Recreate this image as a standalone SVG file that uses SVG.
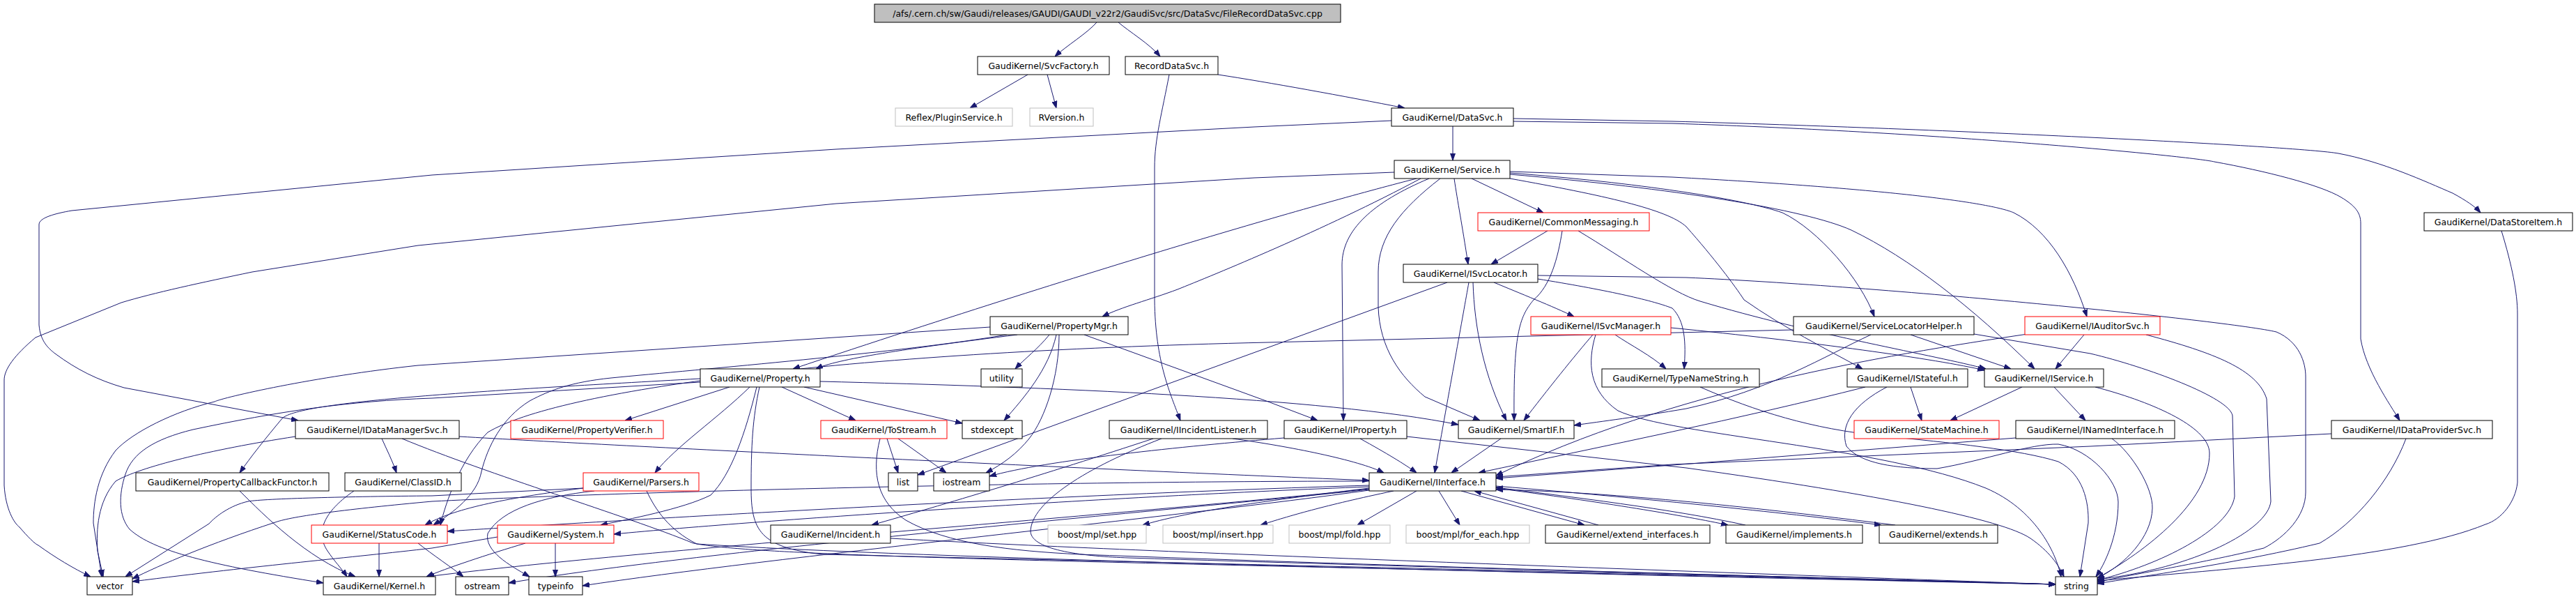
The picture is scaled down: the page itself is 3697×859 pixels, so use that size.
<svg xmlns="http://www.w3.org/2000/svg" width="3697" height="859" viewBox="0 0 3697 859">
<style>
.node rect{fill:#fff;stroke:#000;stroke-width:1}
.node.red rect{stroke:#ff0000}
.node.ext rect{stroke:#bfbfbf}
.node.root rect{fill:#bfbfbf}
.node text{font-family:"DejaVu Sans",sans-serif;font-size:12.5px;text-anchor:middle;fill:#000}
#edges path{fill:none;stroke:#191970;stroke-width:1;marker-end:url(#arr)}
</style>
<defs>
<marker id="arr" markerWidth="10" markerHeight="8" refX="10" refY="4" orient="auto" markerUnits="userSpaceOnUse">
<path d="M0,0.5 L10,4 L0,7.5 z" fill="#191970" stroke="#191970" stroke-width="1"/>
</marker>
</defs>
<rect width="3697" height="859" fill="#fff"/>
<g id="edges">
<path d="M1574,32 C1560,48 1530,66 1514,81"/>
<path d="M1605,32 C1620,45 1650,63 1665,81"/>
<path d="M1475,107 L1392,155"/>
<path d="M1503,107 L1516,155"/>
<path d="M1748,107 C1820,118 1930,138 2016,155"/>
<path d="M1678,107 C1668,160 1657,200 1657,240 L1657,430 C1658,520 1680,565 1694,603"/>
<path d="M2085,181 L2085,230"/>
<path d="M1997,173 L1800,182 L1200,214 L620,251 L103,302 C80,306 56,312 56,322 L56,466 C58,490 70,500 79,507 C110,530 140,545 178,556 L428,603"/>
<path d="M2172,170 L2400,174 C2800,185 3300,210 3356,220 C3420,232 3480,260 3520,277 C3540,288 3552,296 3560,305"/>
<path d="M2172,174 L2400,177 C2800,190 3150,225 3178,232 C3250,245 3330,265 3360,283 C3380,295 3388,305 3388,320 L3388,486 C3395,530 3430,580 3444,603"/>
<path d="M3590,331 C3605,380 3613,420 3613,450 L3613,692 C3610,720 3590,745 3567,752 C3450,800 3200,815 3010,833"/>
<path d="M3346,622 L3000,640 L2400,666 L2147,684"/>
<path d="M3453,629 C3430,690 3380,750 3329,779 C3200,810 3050,830 3010,837"/>
<path d="M2001,247 L1800,255 L1200,292 L600,352 L362,390 C290,405 220,420 174,434 L51,484 C20,510 6,530 6,545 L6,696 C8,730 20,750 28,756 C40,770 50,780 55,782 C80,800 105,815 130,827"/>
<path d="M2033,256 C1900,290 1600,375 1138,529"/>
<path d="M2039,256 C1900,330 1740,395 1690,415 C1650,430 1610,440 1582,454"/>
<path d="M2051,256 C1970,290 1926,330 1926,380 L1928,603"/>
<path d="M2067,256 C2010,300 1978,340 1978,390 L1978,440 C1980,500 2010,540 2045,569 L2124,603"/>
<path d="M2087,256 C2092,290 2098,320 2107,379"/>
<path d="M2112,256 L2215,305"/>
<path d="M2167,246 L2400,254 C2700,270 2855,290 2890,305 C2940,330 2975,390 2995,454"/>
<path d="M2167,248 C2350,262 2500,285 2558,305 C2610,330 2670,400 2690,454"/>
<path d="M2167,250 C2400,270 2590,300 2657,330 C2740,370 2830,440 2920,529"/>
<path d="M2167,256 C2300,280 2393,300 2420,325 C2460,370 2490,410 2503,430 C2560,470 2620,500 2673,529"/>
<path d="M2221,331 L2140,379"/>
<path d="M2242,331 C2236,370 2225,410 2201,430 C2180,455 2172,480 2173,603"/>
<path d="M2265,331 C2330,370 2400,420 2440,432 C2600,480 2780,510 2850,529"/>
<path d="M2144,405 C2180,420 2230,440 2259,454"/>
<path d="M2207,400 C2300,415 2370,430 2400,442 C2418,460 2420,490 2417,529"/>
<path d="M2114,405 C2116,470 2130,540 2162,603"/>
<path d="M2108,405 C2100,450 2080,560 2059,678"/>
<path d="M2077,405 L1317,681"/>
<path d="M2207,395 L2420,398 C2700,410 3200,460 3267,476 C3300,490 3309,520 3309,540 L3309,706 C3309,740 3280,770 3249,786 C3150,810 3050,825 3010,835"/>
<path d="M2318,480 C2340,495 2370,510 2391,529"/>
<path d="M2286,480 C2260,510 2220,560 2187,603"/>
<path d="M2398,470 C2600,490 2780,515 2848,531"/>
<path d="M2290,480 C2278,520 2280,560 2322,589 C2400,625 2700,640 2850,700 C2920,730 2950,790 2958,827"/>
<path d="M1460,480 C1300,500 1200,515 1171,529"/>
<path d="M1506,480 C1490,500 1470,515 1457,529"/>
<path d="M1516,480 C1505,530 1470,570 1441,603"/>
<path d="M1520,480 C1520,540 1500,600 1477,629 C1460,650 1440,665 1415,678"/>
<path d="M1556,480 L1820,576 L1891,603"/>
<path d="M1421,469 L600,524 C450,540 320,570 308,576 C250,590 190,620 166,646 C140,680 134,720 134,750 L146,827"/>
<path d="M1445,480 C1300,505 1000,530 877,542 C820,548 790,559 760,575 C720,600 700,640 691,676 C685,710 650,735 622,753"/>
<path d="M1047,555 L897,603"/>
<path d="M1076,555 C1030,600 970,640 940,678"/>
<path d="M1086,555 C1070,620 1050,680 1020,710 C980,730 900,745 862,753"/>
<path d="M1122,555 L1228,603"/>
<path d="M1154,555 L1381,607"/>
<path d="M1177,547 C1500,555 1900,570 2093,609"/>
<path d="M1005,543 C700,560 430,575 405,600 C380,630 360,655 344,678"/>
<path d="M1005,548 L620,571 C500,575 400,590 277,616 C220,630 190,650 180,680 C170,710 170,740 186,759 C220,790 300,810 464,836"/>
<path d="M1090,555 C1080,600 1078,640 1078,700 C1078,760 1090,785 1180,795 C1800,810 2500,825 2950,838"/>
<path d="M548,629 C555,645 563,660 569,678"/>
<path d="M659,626 C900,640 1500,670 1965,689"/>
<path d="M577,629 C700,680 900,740 995,779 C1100,800 1600,805 2950,838"/>
<path d="M424,626 C300,645 200,670 166,690 C140,720 138,760 140,790 L148,827"/>
<path d="M508,704 C470,730 450,760 470,790 C480,805 490,815 498,827"/>
<path d="M344,704 C380,740 440,800 510,827"/>
<path d="M544,779 L544,827"/>
<path d="M600,779 C620,795 650,815 665,827"/>
<path d="M797,779 L797,827"/>
<path d="M714,770 L620,786 C500,800 380,810 190,834"/>
<path d="M754,779 C700,795 640,815 612,827"/>
<path d="M853,704 C780,712 720,730 700,765 C695,790 730,810 760,827"/>
<path d="M837,700 C720,715 650,730 610,753"/>
<path d="M837,700 L620,711 C500,712 380,715 356,719 C330,725 310,740 300,751 L180,827"/>
<path d="M928,704 C940,730 960,760 1000,780 C1300,800 2200,822 2950,838"/>
<path d="M1769,629 C1850,640 1950,660 1986,678"/>
<path d="M1655,629 C1500,680 1350,725 1251,753"/>
<path d="M1667,629 C1560,670 1480,720 1479,762 C1480,790 1560,798 1620,800 C2000,812 2600,828 2950,838"/>
<path d="M1278,772 C1600,790 2300,815 2950,838"/>
<path d="M1273,629 L1289,678"/>
<path d="M1289,629 L1358,678"/>
<path d="M1263,629 C1250,680 1260,720 1300,746 C1360,780 1450,790 1550,795 C2000,812 2600,828 2950,838"/>
<path d="M1952,629 C1990,650 2015,665 2033,678"/>
<path d="M1843,628 C1700,640 1500,660 1420,683"/>
<path d="M2019,626 L2420,671 C2700,710 2874,745 2914,772 C2940,790 2955,810 2962,827"/>
<path d="M2154,629 L2083,678"/>
<path d="M2677,555 C2500,600 2300,640 2122,678"/>
<path d="M2742,555 L2758,603"/>
<path d="M2708,555 C2660,580 2640,610 2650,640 C2670,665 2720,672 2780,672 C2850,660 2914,636 2954,637 C3000,645 3040,690 3040,720 C3040,770 3020,810 3008,827"/>
<path d="M2902,555 L2799,603"/>
<path d="M2948,555 L2993,603"/>
<path d="M3007,555 C3080,574 3171,610 3171,650 C3171,720 3080,790 3010,829"/>
<path d="M2991,480 L2950,529"/>
<path d="M3080,480 C3178,506 3240,530 3253,572 L3259,719 C3255,760 3150,815 3010,831"/>
<path d="M2910,479 C2700,510 2400,560 2147,682"/>
<path d="M2742,480 L2886,529"/>
<path d="M2685,480 C2620,510 2540,560 2420,586 C2350,598 2300,604 2259,610"/>
<path d="M2833,479 L3000,507 C3080,526 3200,570 3204,596 L3207,712 C3200,760 3100,810 3010,832"/>
<path d="M2574,473 L1820,491 C1200,505 800,560 700,620 C660,660 640,720 632,753"/>
<path d="M2440,555 C2520,590 2600,615 2700,625 C2800,635 2900,645 2954,662 C2990,680 2998,720 2997,750 L2985,827"/>
<path d="M2893,628 L2400,667 L2147,686"/>
<path d="M3031,629 C3060,650 3090,700 3089,729 C3088,770 3050,810 3010,829"/>
<path d="M1965,700 C1800,720 1700,735 1640,753"/>
<path d="M2000,704 C1900,725 1850,740 1809,753"/>
<path d="M2033,704 L1948,753"/>
<path d="M2065,704 L2095,753"/>
<path d="M2097,704 L2274,753"/>
<path d="M2294,753 L2116,704"/>
<path d="M2147,700 C2300,720 2420,740 2480,753"/>
<path d="M2505,753 C2400,730 2250,712 2147,699"/>
<path d="M2147,697 C2400,718 2600,740 2700,753"/>
<path d="M2720,753 C2500,725 2300,705 2147,702"/>
<path d="M1965,696 C1500,710 900,745 642,762"/>
<path d="M1965,698 C1600,712 1100,745 881,766"/>
<path d="M1965,702 C1700,730 1000,790 730,836"/>
<path d="M1965,703 C1700,740 1100,800 836,840"/>
<path d="M1965,701 C1600,740 900,790 613,827"/>
<path d="M1965,690 C1500,690 900,705 620,719 C500,730 420,740 395,749 C300,780 230,810 190,830"/>
</g>
<g id="n1" class="node root"><rect x="1255" y="6" width="669" height="26"/><text x="1589.5" y="23.5">/afs/.cern.ch/sw/Gaudi/releases/GAUDI/GAUDI_v22r2/GaudiSvc/src/DataSvc/FileRecordDataSvc.cpp</text></g>
<g id="n2" class="node"><rect x="1403" y="81" width="189" height="26"/><text x="1497.5" y="98.5">GaudiKernel/SvcFactory.h</text></g>
<g id="n5" class="node"><rect x="1615" y="81" width="133" height="26"/><text x="1681.5" y="98.5">RecordDataSvc.h</text></g>
<g id="n3" class="node ext"><rect x="1285" y="155" width="168" height="26"/><text x="1369" y="172.5">Reflex/PluginService.h</text></g>
<g id="n4" class="node ext"><rect x="1478" y="155" width="91" height="26"/><text x="1523.5" y="172.5">RVersion.h</text></g>
<g id="n6" class="node"><rect x="1997" y="155" width="175" height="26"/><text x="2084.5" y="172.5">GaudiKernel/DataSvc.h</text></g>
<g id="n7" class="node"><rect x="2001" y="230" width="166" height="26"/><text x="2084" y="247.5">GaudiKernel/Service.h</text></g>
<g id="n8" class="node red"><rect x="2121" y="305" width="246" height="26"/><text x="2244" y="322.5">GaudiKernel/CommonMessaging.h</text></g>
<g id="n11" class="node"><rect x="3479" y="305" width="213" height="26"/><text x="3585.5" y="322.5">GaudiKernel/DataStoreItem.h</text></g>
<g id="n9" class="node"><rect x="2014" y="379" width="193" height="26"/><text x="2110.5" y="396.5">GaudiKernel/ISvcLocator.h</text></g>
<g id="n14" class="node"><rect x="1421" y="454" width="198" height="26"/><text x="1520" y="471.5">GaudiKernel/PropertyMgr.h</text></g>
<g id="n16" class="node red"><rect x="2197" y="454" width="201" height="26"/><text x="2297.5" y="471.5">GaudiKernel/ISvcManager.h</text></g>
<g id="n17" class="node"><rect x="2574" y="454" width="259" height="26"/><text x="2703.5" y="471.5">GaudiKernel/ServiceLocatorHelper.h</text></g>
<g id="n18" class="node red"><rect x="2906" y="454" width="194" height="26"/><text x="3003" y="471.5">GaudiKernel/IAuditorSvc.h</text></g>
<g id="n15" class="node"><rect x="1005" y="529" width="172" height="26"/><text x="1091" y="546.5">GaudiKernel/Property.h</text></g>
<g id="n22" class="node"><rect x="1408" y="529" width="59" height="26"/><text x="1437.5" y="546.5">utility</text></g>
<g id="n19" class="node"><rect x="2299" y="529" width="226" height="26"/><text x="2412" y="546.5">GaudiKernel/TypeNameString.h</text></g>
<g id="n20" class="node"><rect x="2651" y="529" width="173" height="26"/><text x="2737.5" y="546.5">GaudiKernel/IStateful.h</text></g>
<g id="n21" class="node"><rect x="2848" y="529" width="171" height="26"/><text x="2933.5" y="546.5">GaudiKernel/IService.h</text></g>
<g id="n10" class="node"><rect x="424" y="603" width="235" height="26"/><text x="541.5" y="620.5">GaudiKernel/IDataManagerSvc.h</text></g>
<g id="n23" class="node red"><rect x="733" y="603" width="219" height="26"/><text x="842.5" y="620.5">GaudiKernel/PropertyVerifier.h</text></g>
<g id="n24" class="node red"><rect x="1178" y="603" width="181" height="26"/><text x="1268.5" y="620.5">GaudiKernel/ToStream.h</text></g>
<g id="n25" class="node"><rect x="1381" y="603" width="86" height="26"/><text x="1424" y="620.5">stdexcept</text></g>
<g id="n13" class="node"><rect x="1592" y="603" width="227" height="26"/><text x="1705.5" y="620.5">GaudiKernel/IIncidentListener.h</text></g>
<g id="n26" class="node"><rect x="1843" y="603" width="176" height="26"/><text x="1931" y="620.5">GaudiKernel/IProperty.h</text></g>
<g id="n27" class="node"><rect x="2093" y="603" width="166" height="26"/><text x="2176" y="620.5">GaudiKernel/SmartIF.h</text></g>
<g id="n28" class="node red"><rect x="2661" y="603" width="208" height="26"/><text x="2765" y="620.5">GaudiKernel/StateMachine.h</text></g>
<g id="n29" class="node"><rect x="2893" y="603" width="228" height="26"/><text x="3007" y="620.5">GaudiKernel/INamedInterface.h</text></g>
<g id="n12" class="node"><rect x="3346" y="603" width="231" height="26"/><text x="3461.5" y="620.5">GaudiKernel/IDataProviderSvc.h</text></g>
<g id="n30" class="node"><rect x="195" y="678" width="277" height="26"/><text x="333.5" y="695.5">GaudiKernel/PropertyCallbackFunctor.h</text></g>
<g id="n31" class="node"><rect x="495" y="678" width="167" height="26"/><text x="578.5" y="695.5">GaudiKernel/ClassID.h</text></g>
<g id="n32" class="node red"><rect x="837" y="678" width="166" height="26"/><text x="920" y="695.5">GaudiKernel/Parsers.h</text></g>
<g id="n33" class="node"><rect x="1275" y="678" width="42" height="26"/><text x="1296" y="695.5">list</text></g>
<g id="n34" class="node"><rect x="1340" y="678" width="80" height="26"/><text x="1380" y="695.5">iostream</text></g>
<g id="n35" class="node"><rect x="1965" y="678" width="182" height="26"/><text x="2056" y="695.5">GaudiKernel/IInterface.h</text></g>
<g id="n36" class="node red"><rect x="447" y="753" width="195" height="26"/><text x="544.5" y="770.5">GaudiKernel/StatusCode.h</text></g>
<g id="n37" class="node red"><rect x="714" y="753" width="167" height="26"/><text x="797.5" y="770.5">GaudiKernel/System.h</text></g>
<g id="n38" class="node"><rect x="1106" y="753" width="172" height="26"/><text x="1192" y="770.5">GaudiKernel/Incident.h</text></g>
<g id="n39" class="node ext"><rect x="1504" y="753" width="141" height="26"/><text x="1574.5" y="770.5">boost/mpl/set.hpp</text></g>
<g id="n40" class="node ext"><rect x="1669" y="753" width="158" height="26"/><text x="1748" y="770.5">boost/mpl/insert.hpp</text></g>
<g id="n41" class="node ext"><rect x="1850" y="753" width="145" height="26"/><text x="1922.5" y="770.5">boost/mpl/fold.hpp</text></g>
<g id="n42" class="node ext"><rect x="2018" y="753" width="177" height="26"/><text x="2106.5" y="770.5">boost/mpl/for_each.hpp</text></g>
<g id="n43" class="node"><rect x="2218" y="753" width="236" height="26"/><text x="2336" y="770.5">GaudiKernel/extend_interfaces.h</text></g>
<g id="n44" class="node"><rect x="2477" y="753" width="196" height="26"/><text x="2575" y="770.5">GaudiKernel/implements.h</text></g>
<g id="n45" class="node"><rect x="2697" y="753" width="170" height="26"/><text x="2782" y="770.5">GaudiKernel/extends.h</text></g>
<g id="n46" class="node"><rect x="125" y="827" width="65" height="26"/><text x="157.5" y="844.5">vector</text></g>
<g id="n47" class="node"><rect x="464" y="827" width="161" height="26"/><text x="544.5" y="844.5">GaudiKernel/Kernel.h</text></g>
<g id="n48" class="node"><rect x="654" y="827" width="76" height="26"/><text x="692" y="844.5">ostream</text></g>
<g id="n49" class="node"><rect x="759" y="827" width="77" height="26"/><text x="797.5" y="844.5">typeinfo</text></g>
<g id="n50" class="node"><rect x="2950" y="827" width="60" height="26"/><text x="2980" y="844.5">string</text></g>
</svg>
